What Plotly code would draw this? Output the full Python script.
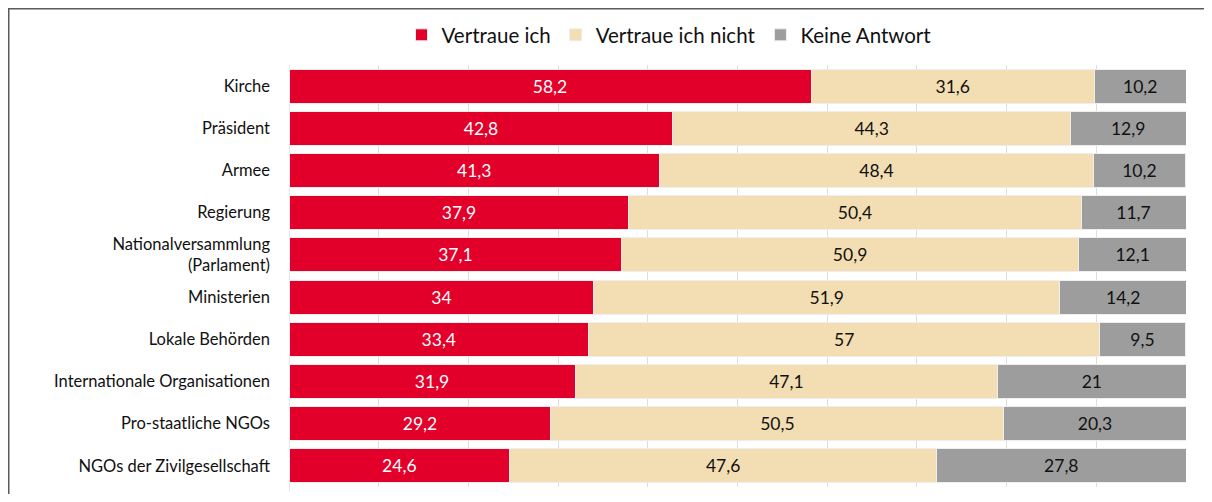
import plotly.graph_objects as go

categories = ["Kirche", "Präsident", "Armee", "Regierung", "Nationalversammlung<br>(Parlament)",
              "Ministerien", "Lokale Behörden", "Internationale Organisationen",
              "Pro-staatliche NGOs", "NGOs der Zivilgesellschaft"]
vertraue = [58.2, 42.8, 41.3, 37.9, 37.1, 34, 33.4, 31.9, 29.2, 24.6]
nicht = [31.6, 44.3, 48.4, 50.4, 50.9, 51.9, 57, 47.1, 50.5, 47.6]
keine = [10.2, 12.9, 10.2, 11.7, 12.1, 14.2, 9.5, 21, 20.3, 27.8]

series = [
    ("Vertraue ich", vertraue, "#E2002A", "white"),
    ("Vertraue ich nicht", nicht, "#F3DDB2", "#111111"),
    ("Keine Antwort", keine, "#9D9D9D", "#111111"),
]

def fmt(v):
    return ("%g" % v).replace(".", ",")

FONT = "Lato"
fig = go.Figure()
for name, vals, color, tcolor in series:
    fig.add_trace(go.Bar(
        y=categories, x=vals, name=name, orientation="h",
        marker=dict(color=color, line=dict(color="#eeeeee", width=1)),
        text=[fmt(v) for v in vals], textposition="inside",
        insidetextanchor="middle",
        textfont=dict(color=tcolor, size=17.5, family=FONT),
        hoverinfo="skip",
    ))

# page has an 8px body margin; coordinates in figure pixels
W, H = 1204, 486
L, R, T, B = 281, 1178, 57, 479
def px_x(p):
    return (p - L) / (R - L)
def px_y(p):
    return (B - p) / (B - T)

frame = dict(color="#5a5a5a", width=3)
fig.add_shape(type="line", xref="paper", yref="paper",
              x0=px_x(0), x1=px_x(W), y0=px_y(0), y1=px_y(0), line=frame, layer="above")
fig.add_shape(type="line", xref="paper", yref="paper",
              x0=px_x(0), x1=px_x(0), y0=px_y(0), y1=px_y(H), line=frame, layer="above")

fig.update_layout(
    barmode="stack", bargap=0.19,
    width=W, height=H,
    margin=dict(l=L, r=W - R, t=T, b=H - B),
    paper_bgcolor="white", plot_bgcolor="white",
    font=dict(family=FONT, color="#111111"),
    legend=dict(orientation="h", x=px_x(661), xanchor="center",
                y=px_y(27), yanchor="middle", font=dict(size=20.5, family=FONT),
                traceorder="normal", itemwidth=30),
    xaxis=dict(range=[0, 100], showgrid=True, gridcolor="#dddddd", gridwidth=1,
               dtick=10, showticklabels=False, zeroline=False, showline=False, fixedrange=True),
    yaxis=dict(autorange="reversed", tickfont=dict(size=16.5, family=FONT, color="#111111"),
               ticklabelstandoff=18, showgrid=False, showline=False),
    showlegend=True,
)
fig.add_shape(type="line", xref="x", yref="paper", x0=0, x1=0, y0=-0.01, y1=1,
              line=dict(color="#cccccc", width=1), layer="below")

fig.write_html("out.html")
